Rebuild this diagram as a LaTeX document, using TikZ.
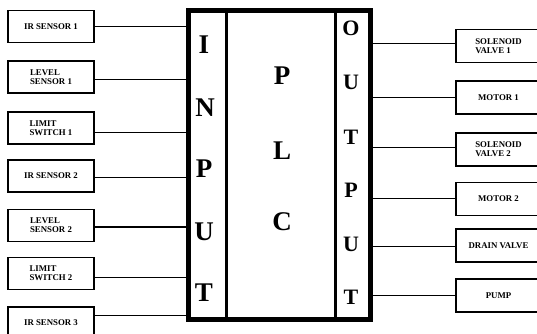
\documentclass[tikz,border=0pt]{standalone}
\usepackage{fontspec}
\setmainfont{Liberation Serif}
\begin{document}
\begin{tikzpicture}[x=1pt,y=-1pt,
  dev/.style={draw,line width=1.4pt,rectangle,minimum width=86pt,minimum height=32pt,inner sep=1pt,
    font=\fontsize{8.8}{9}\selectfont\bfseries,align=left},
  conn/.style={line width=0.9pt},
  big/.style={font=\fontsize{27}{27}\selectfont\bfseries,inner sep=0pt},
  med/.style={font=\fontsize{22}{22}\selectfont\bfseries,inner sep=0pt}]
\useasboundingbox (0,0) rectangle (537,333);
\begin{scope}
\clip (0,0) rectangle (537,333);
% PLC frame
\node[draw,line width=4.5pt,minimum width=182pt,minimum height=309pt,inner sep=0pt] (plc) at (279.5,165) {};
\draw[line width=3pt] (226.5,11) -- (226.5,319);
\draw[line width=3pt] (335,11) -- (335,319);
% input letters
\node[big] (i1) at (204,45) {I};
\node[big] (i2) at (205,108) {N};
\node[big] (i3) at (204,169) {P};
\node[big] (i4) at (204,232) {U};
\node[big] (i5) at (204,293) {T};
% PLC letters
\node[big] (p1) at (282,76) {P};
\node[big] (p2) at (282,151) {L};
\node[big] (p3) at (282,222) {C};
% output letters
\node[med] (o1) at (351,28) {O};
\node[med] (o2) at (351,82) {U};
\node[med] (o3) at (351,137) {T};
\node[med] (o4) at (351,190) {P};
\node[med] (o5) at (351,244) {U};
\node[med] (o6) at (351,297) {T};
% input devices
\node[dev] (a1) at (51,26.5) {IR SENSOR 1};
\node[dev] (a2) at (51,77) {LEVEL\\SENSOR 1};
\node[dev] (a3) at (51,128) {LIMIT\\SWITCH 1};
\node[dev] (a4) at (51,176) {IR SENSOR 2};
\node[dev] (a5) at (51,225.5) {LEVEL\\SENSOR 2};
\node[dev] (a6) at (51,273.5) {LIMIT\\SWITCH 2};
\node[dev] (a7) at (51,323) {IR SENSOR 3};
% output devices
\node[dev,minimum width=85pt,minimum height=33pt] (b1) at (498.5,46) {SOLENOID\\VALVE 1};
\node[dev,minimum width=85pt,minimum height=33pt] (b2) at (498.5,97.5) {MOTOR 1};
\node[dev,minimum width=85pt,minimum height=33pt] (b3) at (498.5,149.5) {SOLENOID\\VALVE 2};
\node[dev,minimum width=85pt,minimum height=33pt] (b4) at (498.5,199) {MOTOR 2};
\node[dev,minimum width=85pt,minimum height=33pt] (b5) at (498.5,245.5) {DRAIN VALVE};
\node[dev,minimum width=85pt,minimum height=33pt] (b6) at (498.5,295.5) {PUMP};
% input connectors
\draw[conn] (a1.east) -- (a1.east -| plc.west);
\draw[conn] ([yshift=-2pt]a2.east) -- ([yshift=-2pt]a2.east -| plc.west);
\draw[conn] ([yshift=-4pt]a3.east) -- ([yshift=-4pt]a3.east -| plc.west);
\draw[conn] ([yshift=-1pt]a4.east) -- ([yshift=-1pt]a4.east -| plc.west);
\draw[line width=1.5pt] ([yshift=-1.5pt]a5.east) -- ([yshift=-1.5pt]a5.east -| plc.west);
\draw[conn] ([yshift=-3.5pt]a6.east) -- ([yshift=-3.5pt]a6.east -| plc.west);
\draw[conn] ([yshift=8pt]a7.east) -- ([yshift=8pt]a7.east -| plc.west);
% output connectors
\draw[conn] ([yshift=3pt]b1.west) -- ([yshift=3pt]b1.west -| plc.east);
\draw[conn] (b2.west) -- (b2.west -| plc.east);
\draw[conn] ([yshift=2.5pt]b3.west) -- ([yshift=2.5pt]b3.west -| plc.east);
\draw[conn] ([yshift=1pt]b4.west) -- ([yshift=1pt]b4.west -| plc.east);
\draw[conn] ([yshift=-0.5pt]b5.west) -- ([yshift=-0.5pt]b5.west -| plc.east);
\draw[conn] ([yshift=0.5pt]b6.west) -- ([yshift=0.5pt]b6.west -| plc.east);
\end{scope}
\end{tikzpicture}
\end{document}
